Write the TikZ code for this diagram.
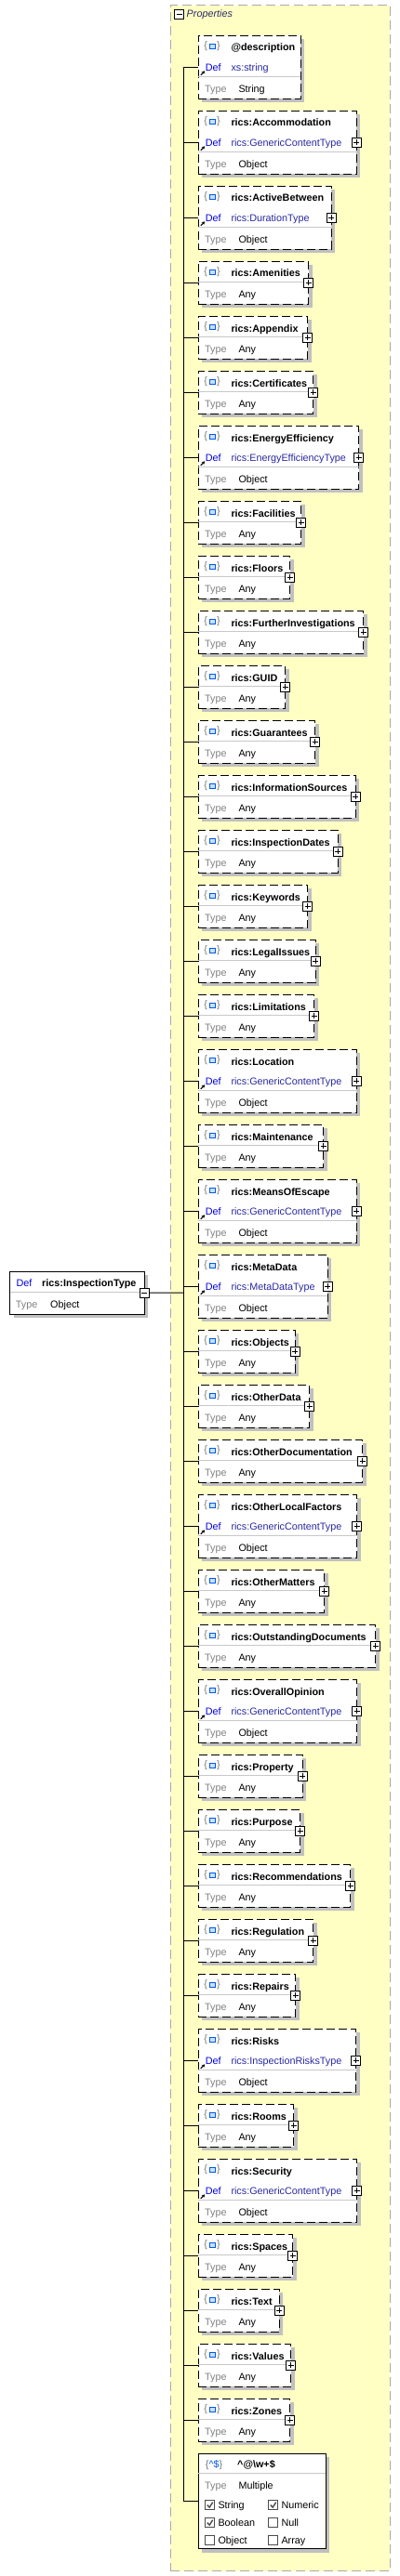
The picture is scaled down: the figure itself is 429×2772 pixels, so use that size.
\documentclass[tikz,border=0pt]{standalone}
\usepackage{fontspec}
\setmainfont{Liberation Sans}
\usepackage{tikz}
\usetikzlibrary{positioning,arrows.meta,shadows}
\definecolor{propyellow}{RGB}{255,255,196}
\definecolor{framegray}{RGB}{170,170,170}
\definecolor{shadowgray}{RGB}{192,192,192}
\definecolor{sepgray}{RGB}{200,200,200}
\definecolor{defblue}{RGB}{0,0,220}
\definecolor{defval}{RGB}{40,40,160}
\definecolor{typegray}{RGB}{128,128,128}
\definecolor{bracegray}{RGB}{120,120,120}
\definecolor{iconblue}{RGB}{0,90,230}
\definecolor{iconfill}{RGB}{200,225,255}
\definecolor{hdrtext}{RGB}{40,40,100}

\begin{document}
\begin{tikzpicture}[
    x=1pt, y=-1pt,
    font=\fontsize{10.8}{13}\selectfont,
    tbox/.style={draw, line width=1pt, fill=white, anchor=north west, inner sep=0pt, outer sep=0pt,
      drop shadow={shadow xshift=4pt, shadow yshift=-4pt, fill=shadowgray, opacity=1}},
    elem/.style={tbox, dash pattern=on 9pt off 4pt},
    propframe/.style={draw=framegray, fill=propyellow, line width=1pt, dash pattern=on 10pt off 5pt,
      anchor=north west, inner sep=0pt},
    hdr/.style={inner sep=0pt, anchor=west, text=hdrtext, font=\fontsize{10.8}{13}\selectfont\itshape},
    txt/.style={inner sep=0pt, anchor=base west, font=\fontsize{10.8}{13}\selectfont},
    ttl/.style={txt, font=\fontsize{10.8}{13}\selectfont\bfseries},
    con/.style={line width=1pt},
    hsep/.style={draw=sepgray, line width=1pt},
    lnk/.style={-{Stealth[length=3.5pt,width=3.5pt]}, line width=1pt},
    brc/.style={text=bracegray, inner sep=0pt, label distance=1.5pt},
    ico/.style={draw=iconblue, fill=iconfill, line width=0.8pt, minimum width=6pt, minimum height=5pt,
      inner sep=0pt, label={[brc]left:\{}, label={[brc]right:\}}},
    pls/.style={draw, fill=white, line width=0.8pt, minimum size=10pt, inner sep=0pt,
      path picture={\draw[line width=0.8pt]
        ([xshift=2pt]path picture bounding box.west) -- ([xshift=-2pt]path picture bounding box.east)
        ([yshift=-2pt]path picture bounding box.north) -- ([yshift=2pt]path picture bounding box.south);}},
    mns/.style={draw, fill=white, line width=0.8pt, minimum size=10pt, inner sep=0pt,
      path picture={\draw[line width=0.8pt]
        ([xshift=2pt]path picture bounding box.west) -- ([xshift=-2pt]path picture bounding box.east);}},
    chk/.style={draw=black!70, fill=white, line width=0.8pt, minimum size=10pt, inner sep=0pt},
    chkon/.style={chk, path picture={\draw[line width=1.4pt]
        ([xshift=2pt]path picture bounding box.west) -- ([xshift=-0.5pt,yshift=2.5pt]path picture bounding box.south)
        -- ([xshift=-2pt,yshift=-2pt]path picture bounding box.north east);}}
  ]
  \useasboundingbox (0,0) rectangle (429,2772);

  % properties container
  \node[propframe, minimum width=236pt, minimum height=2760.7pt] (props) at (182.7,5.3) {};
  \node[mns] (pm) at (192.5,15.5) {};
  \node[hdr] (ph) at (200.5,15.5) {Properties};

  % root type
  \node[tbox, minimum width=144.6pt, minimum height=45.7pt] (root) at (10.7,1368.3) {};
  \node[txt, text=defblue] (rdl) at ([xshift=6.6pt,yshift=-15.7pt]root.north west) {Def};
  \node[ttl] (rt) at ([xshift=34.3pt,yshift=-15.7pt]root.north west) {rics:InspectionType};
  \draw[hsep] ([yshift=-22.4pt]root.north west) -- ([yshift=-22.4pt]root.north east);
  \node[txt, text=typegray] (rtl) at ([xshift=6pt,yshift=-38.7pt]root.north west) {Type};
  \node[txt] (rtv) at ([xshift=43.3pt,yshift=-38.7pt]root.north west) {Object};
  \node[mns] (rm) at (root.east) {};
  \coordinate (tr) at (197.7,1391.2);
  \draw[con] (rm.east) -- (tr);

  % first child
  \node[elem, minimum width=110pt, minimum height=68pt] (b1) at (213.3,38.3) {};
  \draw[con] (b1.west -| tr) -- (b1.west);
  \node[ico] (ic1) at ([xshift=14.7pt,yshift=-11.7pt]b1.north west) {};
  \node[ttl] (t1) at ([xshift=35pt,yshift=-16.7pt]b1.north west) {@description};
  \node[txt, text=defblue] (dl1) at ([xshift=7.3pt,yshift=-38.4pt]b1.north west) {Def};
  \node[txt, text=defval] (dv1) at ([xshift=35pt,yshift=-38.4pt]b1.north west) {xs:string};
  \draw[lnk] ([xshift=2.5pt,yshift=-42.5pt]b1.north west) -- ++(4.5,-4.5);
  \draw[hsep] ([yshift=-44pt]b1.north west) -- ([yshift=-44pt]b1.north east);
  \node[txt, text=typegray] (tl1) at ([xshift=6.7pt,yshift=-61pt]b1.north west) {Type};
  \node[txt] (tv1) at ([xshift=43pt,yshift=-61pt]b1.north west) {String};

  % the other children
  \foreach \nm/\bw/\rw/\dt [count=\i from 2, remember=\i as \j (initially 1)] in {
      Accommodation/170/3/GenericContentType,
      ActiveBetween/143/3/DurationType,
      Amenities/118.4/2/-,
      Appendix/117.4/2/-,
      Certificates/123.4/2/-,
      EnergyEfficiency/172.4/3/EnergyEfficiencyType,
      Facilities/110.4/2/-,
      Floors/98.4/2/-,
      FurtherInvestigations/177.4/2/-,
      GUID/93.4/2/-,
      Guarantees/125.4/2/-,
      InformationSources/168.7/2/-,
      InspectionDates/149.7/2/-,
      Keywords/117.4/2/-,
      LegalIssues/125.7/2/-,
      Limitations/124.2/2/-,
      Location/170/3/GenericContentType,
      Maintenance/134.4/2/-,
      MeansOfEscape/170/3/GenericContentType,
      MetaData/139/3/MetaDataType,
      Objects/104/2/-,
      OtherData/119.4/2/-,
      OtherDocumentation/176.4/2/-,
      OtherLocalFactors/170.4/3/GenericContentType,
      OtherMatters/135.4/2/-,
      OutstandingDocuments/190.4/2/-,
      OverallOpinion/170.4/3/GenericContentType,
      Property/111.7/2/-,
      Purpose/109.4/2/-,
      Recommendations/163.4/2/-,
      Regulation/123.4/2/-,
      Repairs/104.4/2/-,
      Risks/169.4/3/InspectionRisksType,
      Rooms/102.4/2/-,
      Security/170.4/3/GenericContentType,
      Spaces/101.4/2/-,
      Text/87/2/-,
      Values/99.4/2/-,
      Zones/98.4/2/-}{
    \ifnum\rw=3 \def\bh{68}\def\sy{44}\def\ty{Object}\else\def\bh{46}\def\sy{22}\def\ty{Any}\fi
    \pgfmathsetmacro{\tb}{\sy+17}
    \node[elem, minimum width=\bw pt, minimum height=\bh pt,
          below right=13pt and 0pt of b\j.south west] (b\i) {};
    \draw[con] (b\i.west -| tr) -- (b\i.west);
    \node[ico] (ic\i) at ([xshift=14.7pt,yshift=-11.7pt]b\i.north west) {};
    \node[ttl] (t\i) at ([xshift=35pt,yshift=-16.7pt]b\i.north west) {rics:\nm};
    \ifnum\rw=3
      \node[txt, text=defblue] (dl\i) at ([xshift=7.3pt,yshift=-38.4pt]b\i.north west) {Def};
      \node[txt, text=defval] (dv\i) at ([xshift=35pt,yshift=-38.4pt]b\i.north west) {rics:\dt};
      \draw[lnk] ([xshift=2.5pt,yshift=-42.5pt]b\i.north west) -- ++(4.5,-4.5);
    \fi
    \draw[hsep] ([yshift=-\sy pt]b\i.north west) -- ([yshift=-\sy pt]b\i.north east);
    \node[txt, text=typegray] (tl\i) at ([xshift=6.7pt,yshift=-\tb pt]b\i.north west) {Type};
    \node[txt] (tv\i) at ([xshift=43pt,yshift=-\tb pt]b\i.north west) {\ty};
    \node[pls] (p\i) at (b\i.east) {};
  }

  % pattern properties
  \node[tbox, minimum width=137pt, minimum height=102.5pt,
        below right=13pt and 0pt of b40.south west] (b41) {};
  \draw[con] (b41.west -| tr) -- (b41.west);
  \node[txt, text=bracegray] (ic41) at ([xshift=7.4pt,yshift=-15pt]b41.north west)
    {\{\textcolor{iconblue}{\textasciicircum\$}\}};
  \node[ttl] (t41) at ([xshift=41.7pt,yshift=-15pt]b41.north west) {\textasciicircum @\textbackslash w+\$};
  \draw[hsep] ([yshift=-21.6pt]b41.north west) -- ([yshift=-21.6pt]b41.north east);
  \node[txt, text=typegray] (tl41) at ([xshift=6.7pt,yshift=-38.5pt]b41.north west) {Type};
  \node[txt] (tv41) at ([xshift=43pt,yshift=-38.5pt]b41.north west) {Multiple};
  \foreach \lab/\cx/\cy/\st [count=\k] in {String/0/0/chkon, Numeric/68/0/chkon, Boolean/0/19/chkon,
      Null/68/19/chk, Object/0/38/chk, Array/68/38/chk}{
    \node[\st] (k\k) at ([xshift=12.4pt+\cx pt, yshift=-55.3pt-\cy pt]b41.north west) {};
    \node[txt] (kl\k) at ([xshift=21pt+\cx pt, yshift=-59.5pt-\cy pt]b41.north west) {\lab};
  }

  % trunk
  \draw[con] (b1.west -| tr) -- (b41.west -| tr);
\end{tikzpicture}
\end{document}
